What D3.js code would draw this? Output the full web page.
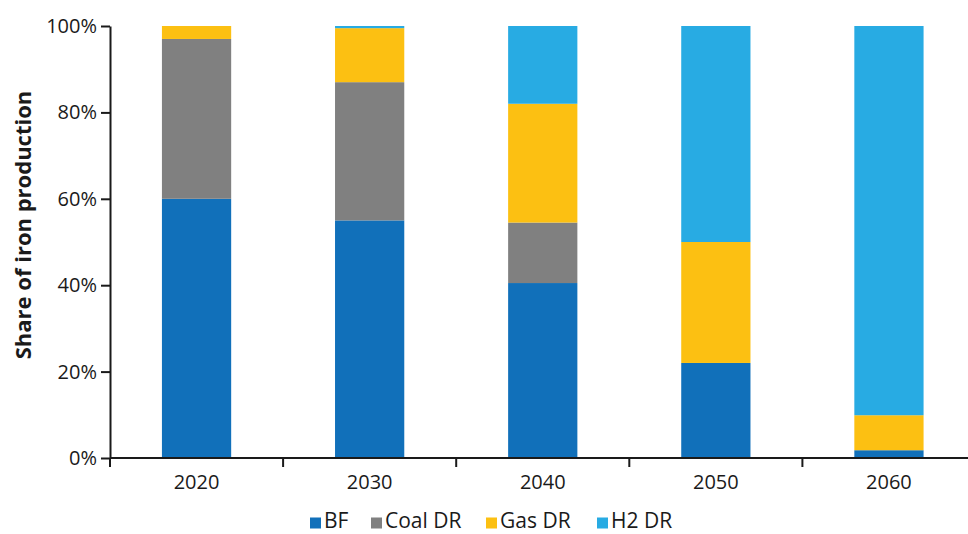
<!DOCTYPE html>
<html>
<head>
<meta charset="utf-8">
<script src="https://cdn.jsdelivr.net/npm/d3@7"></script>
<style>
  body { margin: 0; background: #fff; }
  text { font-family: "Open Sans", "Noto Sans", sans-serif; fill: #1a1a1a; }
</style>
</head>
<body>
<div id="chart"></div>
<script>
// Data (share of iron production, %)
const years = ["2020", "2030", "2040", "2050", "2060"];
const seriesNames = ["BF", "Coal DR", "Gas DR", "H2 DR"];
const bf     = [60, 55, 40.5, 22, 1.8];
const coalDR = [37, 32, 14, 0, 0];
const gasDR  = [3, 12.5, 27.5, 28, 8.1];
const h2DR   = [0, 0.5, 18, 50, 90.1];
const yTicks = [0, 20, 40, 60, 80, 100];

const colors = ["#1170ba", "#808080", "#fcc012", "#28abe3"];

// Setting margins
const W = 968, H = 534;
const margin = { top: 26, right: 0, bottom: 76, left: 110 };
const height = H - margin.top - margin.bottom;
const step = 173.1;

const svg = d3.select("#chart")
    .append("svg")
    .attr("width", W)
    .attr("height", H);

const g = svg.append("g")
    .attr("transform", `translate(${margin.left},${margin.top})`);

// rows for stacking
const rows = years.map((yr, i) => ({
    year: yr, "BF": bf[i], "Coal DR": coalDR[i], "Gas DR": gasDR[i], "H2 DR": h2DR[i]
}));
const stacked = d3.stack().keys(seriesNames)(rows);

const x = d3.scaleBand()
    .domain(years)
    .range([0, step * years.length])
    .paddingInner(0.6)
    .paddingOuter(0.3);

const y = d3.scaleLinear()
    .domain([0, 100])
    .range([height, 0]);

const color = d3.scaleOrdinal().domain(seriesNames).range(colors);

// Bars
g.selectAll("g.layer")
    .data(stacked)
    .enter().append("g")
    .attr("class", "layer")
    .attr("fill", d => color(d.key))
    .selectAll("rect")
    .data(d => d)
    .enter().append("rect")
    .attr("x", d => x(d.data.year))
    .attr("y", d => y(d[1]))
    .attr("width", x.bandwidth())
    .attr("height", d => y(d[0]) - y(d[1]));

// Y axis
const yAxis = g.append("g")
    .call(d3.axisLeft(y).tickValues(yTicks).tickFormat(d => d + "%").tickSize(9).tickSizeOuter(0).tickPadding(4));
yAxis.select(".domain").attr("stroke", "#1a1a1a").attr("stroke-width", 2);
yAxis.selectAll(".tick line").attr("stroke", "#1a1a1a").attr("stroke-width", 2);
yAxis.selectAll("text").style("font-size", "20px").style("font-family", "Open Sans").attr("fill", "#1a1a1a");

// X axis: ticks between categories
const xAxis = g.append("g").attr("transform", `translate(0,${height})`);
xAxis.append("line")
    .attr("x1", 0).attr("x2", W - margin.left)
    .attr("stroke", "#1a1a1a").attr("stroke-width", 2);
xAxis.selectAll("line.sep")
    .data(d3.range(years.length + 1))
    .enter().append("line")
    .attr("class", "sep")
    .attr("x1", i => i * step).attr("x2", i => i * step)
    .attr("y1", 0).attr("y2", 9)
    .attr("stroke", "#1a1a1a").attr("stroke-width", 2);
xAxis.selectAll("text")
    .data(years)
    .enter().append("text")
    .attr("x", d => x(d) + x.bandwidth() / 2)
    .attr("y", 31)
    .attr("text-anchor", "middle")
    .style("font-size", "20px")
    .text(d => d);

// Y axis label
svg.append("text")
    .attr("transform", "rotate(-90)")
    .attr("x", -225)
    .attr("y", 31)
    .attr("text-anchor", "middle")
    .style("font-size", "22px")
    .style("font-weight", "bold")
    .text("Share of iron production");

// Legend
const legendX = [310, 371, 486, 597];
const legend = svg.append("g").attr("class", "legend");
const items = legend.selectAll("g")
    .data(seriesNames)
    .enter().append("g")
    .attr("transform", (d, i) => `translate(${legendX[i]},0)`);
items.append("rect")
    .attr("x", 0).attr("y", 517.5)
    .attr("width", 11).attr("height", 11)
    .attr("fill", d => color(d));
items.append("text")
    .attr("x", 14)
    .attr("y", 528)
    .style("font-size", "21px")
    .text(d => d);
</script>
</body>
</html>
